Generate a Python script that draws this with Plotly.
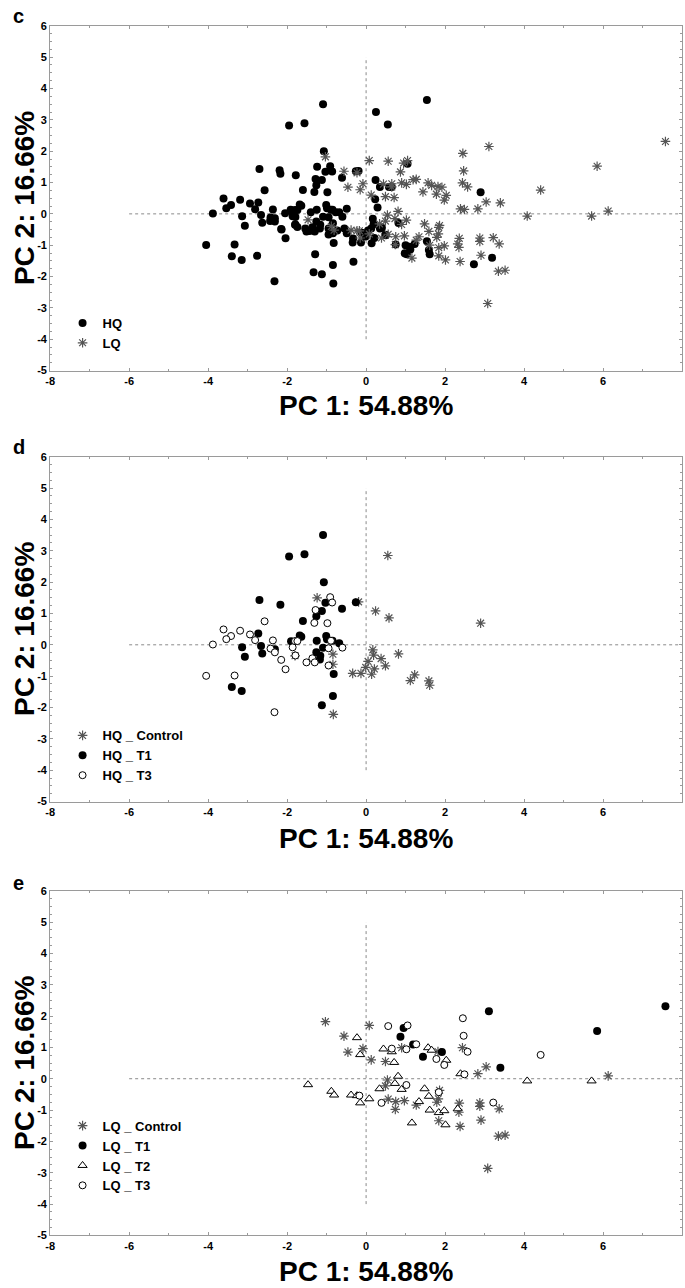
import plotly.graph_objects as go

# ---------------- data ----------------
x_ticks = [-8, -6, -4, -2, 0, 2, 4, 6, 8]
y_ticks = [-5, -4, -3, -2, -1, 0, 1, 2, 3, 4, 5, 6]
hline_x = [-6, 8]      # horizontal reference line at PC2 = 0
vline_y = [-4, 5]      # vertical reference line at PC1 = 0

hq_control_x = [0.55, 0.24, 0.58, -1.24, -0.19, 0.17, 0.19, 0.38, 0.82, 0.05, -0.01, 0.49, 0.21,
                -0.34, -0.13, 0.14, 1.23, 1.12, 1.59, 1.61, -0.83, -0.84, -0.84, -1.80, 2.90]
hq_control_y = [2.85, 1.08, 0.86, 1.50, 1.37, -0.16, -0.33, -0.44, -0.29, -0.53, -0.72, -0.67, -0.77,
                -0.91, -0.91, -0.94, -0.96, -1.14, -1.15, -1.29, -2.22, -0.30, -0.62, -0.35, 0.69]

hq_t1_x = [-1.09, -1.95, -1.56, -1.07, -2.70, -2.17, -0.26, -1.03, -0.61, -1.12, -1.26, -1.60, -2.73,
           -1.68, -1.64, -1.90, -1.01, -0.99, -1.25, -0.85, -3.14, -2.66, -2.31, -3.07, -2.63, -1.09,
           -1.26, -1.16, -1.17, -0.82, -3.40, -3.15, -0.84, -1.12, -0.68]
hq_t1_y = [3.50, 2.82, 2.89, 2.00, 1.43, 1.28, 1.36, 1.34, 1.15, 1.08, 0.91, 0.76, 0.36,
           0.30, 0.26, 0.11, 0.28, 0.18, 0.13, 0.13, -0.08, -0.04, -0.14, -0.38, -0.28, -0.09,
           -0.24, -0.35, -0.47, -0.93, -1.35, -1.47, -1.63, -1.93, 0.05]

hq_t3_x = [-3.61, -3.19, -3.42, -3.54, -3.88, -2.94, -2.81, -2.57, -2.36, -2.42, -2.31, -2.15, -2.04,
           -4.05, -3.33, -2.32, -1.86, -1.80, -1.74, -1.79, -1.51, -1.36, -1.30, -1.31, -1.28, -0.98,
           -0.91, -0.86, -0.95, -0.95, -0.60, -0.89]
hq_t3_y = [0.49, 0.45, 0.28, 0.18, 0.01, 0.33, 0.15, 0.75, 0.14, -0.12, -0.24, -0.48, -0.78,
           -0.99, -0.98, -2.15, -0.08, 0.12, 0.12, -0.34, -0.56, -0.43, -0.56, 0.70, 1.11, 0.69,
           1.52, 1.35, -0.11, -0.66, -0.09, 0.13]

# HQ samples only present in panel c (not shown in panel d)
hq_t2_x = [0.25, 1.54, -2.19, -1.78, 1.05, 0.29, -2.76, -1.29, -1.33, -0.32, 2.73, 3.19, 1.00,
           1.03, 1.54, 0.75, -0.49, 0.23, -0.11, 0.35,
           -1.91, -1.79, -1.74, -1.54, -1.43, -1.32, -0.95, -0.73, -0.55, -0.77, -2.43, -2.14,
           -0.33, 0.13, 0.40, 0.50, 1.10, 0.98, 0.35, 0.65, -0.49, -1.40, -2.05]
hq_t2_y = [3.25, 3.63, 1.39, 1.23, 1.60, 0.20, -1.34, -1.29, -1.86, -1.53, -1.61, -1.40, -1.00,
           -1.29, -0.87, -0.98, 0.16, 0.47, -0.60, -0.47,
           0.13, -0.10, -0.42, -0.47, -0.55, -0.53, -0.47, -0.53, -0.47, 0.05, -0.23, -0.50,
           -0.79, -0.47, -0.44, -0.68, -1.05, -1.26, 0.86, 0.86, -0.62, 0.05, 0.02]

lq_control_x = [-1.03, 0.08, -0.56, -0.46, -0.08, 0.13, 0.49, 0.90, 1.82, 2.44, 3.04, 2.83, 6.13,
                0.54, 0.49, 1.86, 0.56, 0.75, 0.97, 0.74, 1.27, 1.79, 1.83, 2.36, 2.35, 2.88,
                2.88, 3.37, 2.91, 1.84, 2.38, 3.35, 3.52, 3.08]
lq_control_y = [1.82, 1.70, 1.36, 0.85, 0.96, 0.60, 0.55, 0.99, 0.87, 0.99, 0.38, 0.16, 0.09,
                -0.04, -0.23, -0.37, -0.65, -0.73, -0.70, -0.98, -0.84, -0.75, -0.64, -0.78, -1.07, -0.77,
                -0.88, -0.96, -1.32, -1.34, -1.52, -1.83, -1.80, -2.86]

lq_t1_x = [7.58, 3.11, 5.85, 0.95, 0.87, 1.19, 1.92, 1.44, 3.40]
lq_t1_y = [2.31, 2.15, 1.52, 1.62, 1.34, 1.09, 0.85, 0.70, 0.35]

lq_t2_x = [-1.47, -0.88, -0.81, -0.38, -0.23, -0.15, 0.08, -0.23, -0.15, 0.44, 0.65, 0.71, 0.81,
           0.73, 0.34, 0.90, 1.48, 1.59, 1.34, 1.61, 1.16, 1.84, 1.98, 2.01, 2.32, 1.57,
           1.66, 2.03, 2.39, 4.08, 5.71]
lq_t2_y = [-0.19, -0.40, -0.52, -0.52, -0.54, -0.77, -0.64, 1.31, 0.77, 0.95, 0.86, 0.52, 0.08,
           -0.15, -0.32, -0.34, -0.32, -0.56, -0.73, -1.00, -1.41, -1.08, -1.02, -1.47, -0.96, 0.99,
           0.91, 0.59, 0.16, -0.07, -0.07]

lq_t3_x = [0.56, 1.05, 2.45, 2.47, 0.65, 1.02, 1.27, 1.78, 1.98, 2.57, 4.42, 2.49, 1.02,
           1.84, 0.39, -0.17, 3.22]
lq_t3_y = [1.68, 1.70, 1.93, 1.37, 0.96, 0.94, 1.10, 0.63, 0.44, 0.86, 0.76, 0.14, -0.20,
           -0.43, -0.77, -0.54, -0.76]

panel_letters = ["c", "d", "e"]
x_title = "PC 1: 54.88%"
y_title = "PC 2: 16.66%"

# ---------------- layout geometry ----------------
W, H = 685, 1288
XL, XR = 45.5, 682.0
tops = [20, 455, 893]
bottoms = [368, 803, 1241]
FONT = "Liberation Sans, Arial, sans-serif"

def py(p):
    return 1 - p / H

def px(p):
    return p / W

STAR = dict(symbol="asterisk-open", size=8, color="#555555", line=dict(color="#555555", width=1.2))
DOT = dict(symbol="circle", size=8, color="black", line=dict(color="black", width=0))
OPEN = dict(symbol="circle", size=7, color="white", line=dict(color="black", width=1))
TRI = dict(symbol="triangle-up", size=8, color="white", line=dict(color="black", width=1))

fig = go.Figure()

def add(xs, ys, name, marker, k, legend):
    ax = "" if k == 1 else str(k)
    fig.add_trace(go.Scatter(x=xs, y=ys, mode="markers", name=name, marker=marker,
                             xaxis="x" + ax, yaxis="y" + ax, legend=legend,
                             legendgroup=name + str(k), showlegend=True))

def add_ref_lines(k):
    ax = "" if k == 1 else str(k)
    fig.add_trace(go.Scatter(x=hline_x, y=[0, 0], mode="lines", showlegend=False,
                             line=dict(color="#8a8a8a", width=1, dash="dot"),
                             xaxis="x" + ax, yaxis="y" + ax, hoverinfo="skip"))
    fig.add_trace(go.Scatter(x=[0, 0], y=vline_y, mode="lines", showlegend=False,
                             line=dict(color="#8a8a8a", width=1, dash="dot"),
                             xaxis="x" + ax, yaxis="y" + ax, hoverinfo="skip"))

for k in (1, 2, 3):
    add_ref_lines(k)

# panel c
add(hq_control_x + hq_t1_x + hq_t3_x + hq_t2_x, hq_control_y + hq_t1_y + hq_t3_y + hq_t2_y,
    "HQ", DOT, 1, "legend")
add(lq_control_x + lq_t1_x + lq_t2_x + lq_t3_x, lq_control_y + lq_t1_y + lq_t2_y + lq_t3_y,
    "LQ", STAR, 1, "legend")
# panel d
add(hq_control_x, hq_control_y, "HQ _ Control", STAR, 2, "legend2")
add(hq_t1_x, hq_t1_y, "HQ _ T1", DOT, 2, "legend2")
add(hq_t3_x, hq_t3_y, "HQ _ T3", OPEN, 2, "legend2")
# panel e
add(lq_control_x, lq_control_y, "LQ _ Control", STAR, 3, "legend3")
add(lq_t1_x, lq_t1_y, "LQ _ T1", DOT, 3, "legend3")
add(lq_t2_x, lq_t2_y, "LQ _ T2", TRI, 3, "legend3")
add(lq_t3_x, lq_t3_y, "LQ _ T3", OPEN, 3, "legend3")

tickfont = dict(family=FONT, size=11, color="black", weight="bold")
layout = dict(width=W, height=H, margin=dict(l=0, r=0, t=0, b=0),
              paper_bgcolor="white", plot_bgcolor="white", showlegend=True)

for i, k in enumerate((1, 2, 3)):
    ax = "" if k == 1 else str(k)
    layout["xaxis" + ax] = dict(
        domain=[px(XL), px(XR)], anchor="y" + ax, range=[-8, 8],
        tickvals=x_ticks, ticktext=[str(v) for v in x_ticks], tickfont=tickfont,
        showgrid=False, zeroline=False, showline=True, mirror="ticks", linecolor="#9a9a9a",
        linewidth=1, ticks="inside", ticklen=3, tickcolor="#9a9a9a",
        minor=dict(dtick=1, ticks="inside", ticklen=2, tickcolor="#9a9a9a"))
    layout["yaxis" + ax] = dict(
        domain=[py(bottoms[i]), py(tops[i])], anchor="x" + ax, range=[-5, 6],
        tickvals=y_ticks, ticktext=[str(v) for v in y_ticks], tickfont=tickfont,
        showgrid=False, zeroline=False, showline=True, mirror="ticks", linecolor="#9a9a9a",
        linewidth=1, ticks="inside", ticklen=3, tickcolor="#9a9a9a",
        minor=dict(dtick=0.25, ticks="inside", ticklen=2, tickcolor="#9a9a9a"))

legend_centers = [330, 756.5, 1160.5]
for i, name in enumerate(["legend", "legend2", "legend3"]):
    layout[name] = dict(x=px(58), xanchor="left", y=py(legend_centers[i]), yanchor="middle",
                        bgcolor="rgba(0,0,0,0)", borderwidth=0, tracegroupgap=0,
                        font=dict(family=FONT, size=13, color="black", weight="bold"),
                        itemclick=False)

annotations = []
letter_y = [10, 445, 885]
xtitle_y = [403, 840, 1277]
for i in range(3):
    annotations.append(dict(text=panel_letters[i], xref="paper", yref="paper", x=px(14), y=py(letter_y[i]),
                            xanchor="center", yanchor="middle", showarrow=False,
                            font=dict(family=FONT, size=20, color="black", weight="bold")))
    annotations.append(dict(text=x_title, xref="paper", yref="paper", x=px((XL + XR) / 2), y=py(xtitle_y[i]),
                            xanchor="center", yanchor="middle", showarrow=False,
                            font=dict(family=FONT, size=28, color="black", weight="bold")))
    annotations.append(dict(text=y_title, xref="paper", yref="paper", x=px(19),
                            y=py((tops[i] + bottoms[i]) / 2), textangle=-90,
                            xanchor="center", yanchor="middle", showarrow=False,
                            font=dict(family=FONT, size=28, color="black", weight="bold")))
layout["annotations"] = annotations

fig.update_layout(**layout)
fig.write_html("out.html", config={"displayModeBar": False},
               post_script="document.body.style.margin='0';")
